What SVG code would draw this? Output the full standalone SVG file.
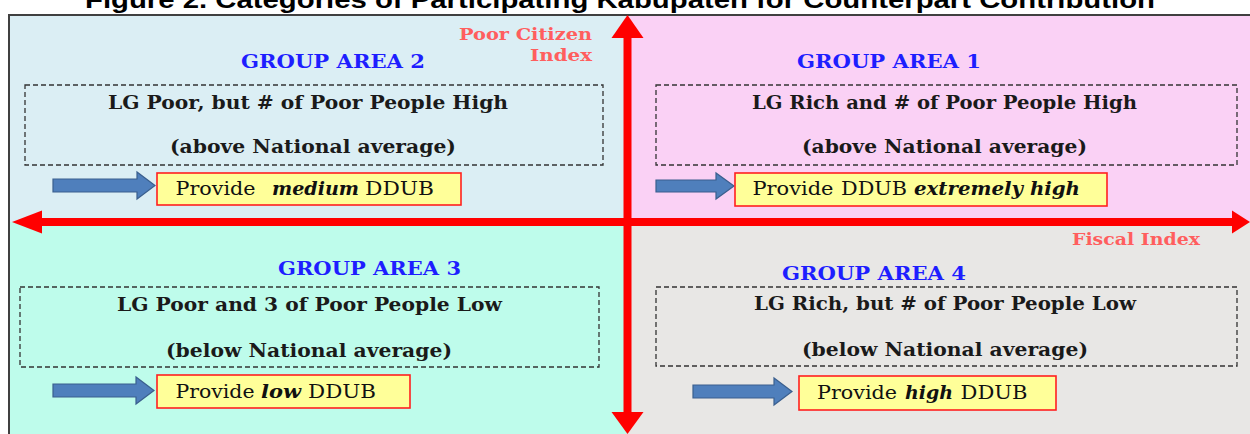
<svg xmlns="http://www.w3.org/2000/svg" width="1250" height="434" viewBox="0 0 1250 434">
<style>
.title{font-family:"Liberation Sans",Arial,sans-serif;font-weight:bold;font-size:23px;fill:#000}
.axis-label{font-family:"DejaVu Serif","Liberation Serif",serif;font-weight:bold;font-size:16px;fill:#FF5E5E}
.grp{font-family:"DejaVu Serif","Liberation Serif",serif;font-weight:bold;font-size:19px;fill:#1E1EFF}
.desc{font-family:"DejaVu Serif","Liberation Serif",serif;font-weight:bold;font-size:18.5px;fill:#1a1a1a}
.prov{font-family:"DejaVu Serif","Liberation Serif",serif;font-size:18px;fill:#111}
.it{font-style:italic}
.dash{fill:none;stroke:#333;stroke-width:1.3;stroke-dasharray:5 3}
.ybox{fill:#FFFF99;stroke:#FF2020;stroke-width:1.6}
.barrow{fill:#4F7FBC;stroke:#3A5F8E;stroke-width:1.2}
.axis{fill:#FF0000}
</style>
<text class="title" x="620" y="8" text-anchor="middle" textLength="1070" lengthAdjust="spacingAndGlyphs">Figure 2. Categories of Participating Kabupaten for Counterpart Contribution</text>
<g id="quadrants">
<rect x="9" y="15" width="619" height="207" fill="#DBEEF4"/>
<rect x="628" y="15" width="622" height="207" fill="#FAD1F5"/>
<rect x="9" y="222" width="619" height="212" fill="#BEFCEB"/>
<rect x="628" y="222" width="622" height="212" fill="#E8E7E5"/>
<path d="M9 434 V15 H1250" fill="none" stroke="#404040" stroke-width="2"/>
</g>
<g id="connectors">
<rect class="axis" x="623.5" y="36" width="8" height="378"/>
<polygon class="axis" points="627.5,15 643.5,38 611.5,38"/>
<polygon class="axis" points="627.5,434 643.5,412 611.5,412"/>
<rect class="axis" x="40" y="218" width="1194" height="8"/>
<polygon class="axis" points="12,222 42,210.5 42,233.5"/>
<polygon class="axis" points="1250,222 1232,210.5 1232,233.5"/>
</g>
<g id="axis-labels">
<text class="axis-label" x="592" y="40" text-anchor="end" textLength="133" lengthAdjust="spacingAndGlyphs">Poor Citizen</text>
<text class="axis-label" x="592" y="61" text-anchor="end" textLength="62" lengthAdjust="spacingAndGlyphs">Index</text>
<text class="axis-label" x="1072" y="245" textLength="128" lengthAdjust="spacingAndGlyphs">Fiscal Index</text>
</g>
<g id="group-area-2">
<text class="grp" x="241" y="68" textLength="184" lengthAdjust="spacingAndGlyphs">GROUP AREA 2</text>
<rect class="dash" x="25" y="85" width="578" height="80"/>
<text class="desc" x="108" y="109" textLength="400" lengthAdjust="spacingAndGlyphs">LG Poor, but # of Poor People High</text>
<text class="desc" x="170" y="153" textLength="286" lengthAdjust="spacingAndGlyphs">(above National average)</text>
<polygon class="barrow" points="53,179 137,179 137,172 155,185.5 137,199 137,192 53,192"/>
<rect class="ybox" x="157" y="173" width="304" height="32"/>
<text class="prov" y="195"><tspan x="175.5" textLength="80" lengthAdjust="spacingAndGlyphs">Provide</tspan><tspan class="it" font-weight="bold" x="272" textLength="87" lengthAdjust="spacingAndGlyphs">medium</tspan><tspan x="365" textLength="69" lengthAdjust="spacingAndGlyphs">DDUB</tspan></text>
</g>
<g id="group-area-1">
<text class="grp" x="797" y="68" textLength="184" lengthAdjust="spacingAndGlyphs">GROUP AREA 1</text>
<rect class="dash" x="656" y="85" width="581" height="80"/>
<text class="desc" x="752" y="109" textLength="385" lengthAdjust="spacingAndGlyphs">LG Rich and # of Poor People High</text>
<text class="desc" x="802" y="153" textLength="285" lengthAdjust="spacingAndGlyphs">(above National average)</text>
<polygon class="barrow" points="656,180 716,180 716,173 734,186 716,199 716,192 656,192"/>
<rect class="ybox" x="735" y="173" width="372" height="33"/>
<text class="prov" y="195"><tspan x="752.5" textLength="81" lengthAdjust="spacingAndGlyphs">Provide</tspan><tspan x="841" textLength="66" lengthAdjust="spacingAndGlyphs">DDUB</tspan><tspan class="it" font-weight="bold" x="914" textLength="166" lengthAdjust="spacingAndGlyphs">extremely high</tspan></text>
</g>
<g id="group-area-3">
<text class="grp" x="278" y="275" textLength="183" lengthAdjust="spacingAndGlyphs">GROUP AREA 3</text>
<rect class="dash" x="20" y="287" width="579" height="80"/>
<text class="desc" x="117" y="311" textLength="385" lengthAdjust="spacingAndGlyphs">LG Poor and 3 of Poor People Low</text>
<text class="desc" x="166" y="357" textLength="286" lengthAdjust="spacingAndGlyphs">(below National average)</text>
<polygon class="barrow" points="53,384 136,384 136,377 154,390.5 136,404 136,397 53,397"/>
<rect class="ybox" x="157" y="375" width="253" height="33"/>
<text class="prov" y="398"><tspan x="175.5" textLength="79" lengthAdjust="spacingAndGlyphs">Provide</tspan><tspan class="it" font-weight="bold" x="261" textLength="40" lengthAdjust="spacingAndGlyphs">low</tspan><tspan x="308" textLength="68" lengthAdjust="spacingAndGlyphs">DDUB</tspan></text>
</g>
<g id="group-area-4">
<text class="grp" x="782" y="280" textLength="184" lengthAdjust="spacingAndGlyphs">GROUP AREA 4</text>
<rect class="dash" x="656" y="287" width="581" height="79"/>
<text class="desc" x="754" y="310" textLength="382" lengthAdjust="spacingAndGlyphs">LG Rich, but # of Poor People Low</text>
<text class="desc" x="802" y="356" textLength="286" lengthAdjust="spacingAndGlyphs">(below National average)</text>
<polygon class="barrow" points="693,385 774,385 774,378 792,391.5 774,405 774,398 693,398"/>
<rect class="ybox" x="799" y="376" width="257" height="34"/>
<text class="prov" y="399"><tspan x="817" textLength="80" lengthAdjust="spacingAndGlyphs">Provide</tspan><tspan class="it" font-weight="bold" x="905" textLength="48" lengthAdjust="spacingAndGlyphs">high</tspan><tspan x="960.5" textLength="67" lengthAdjust="spacingAndGlyphs">DDUB</tspan></text>
</g>
</svg>
